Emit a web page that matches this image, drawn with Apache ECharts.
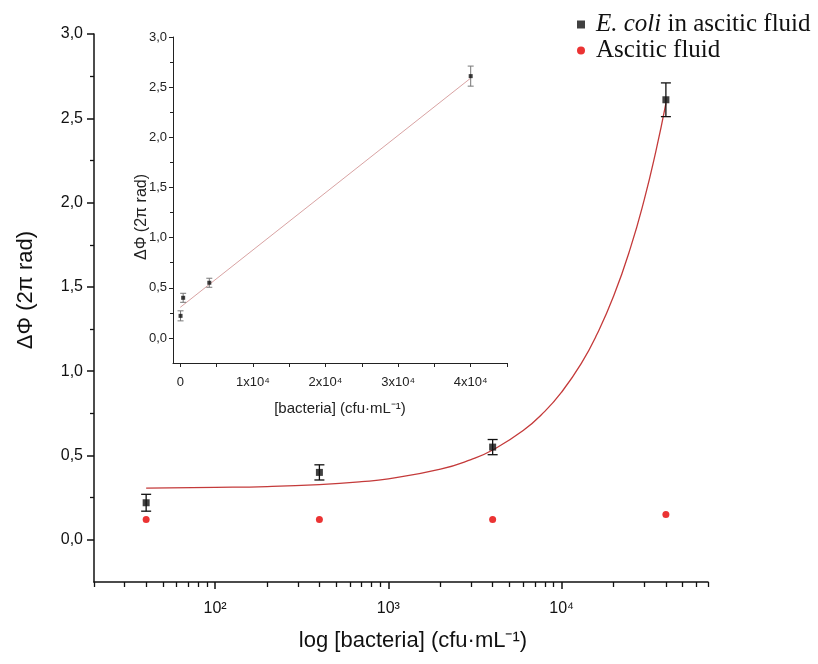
<!DOCTYPE html>
<html>
<head>
<meta charset="utf-8">
<script src="https://cdn.jsdelivr.net/npm/echarts@6/dist/echarts.min.js"></script>
<style>
  html, body { margin: 0; padding: 0; background: #fff; }
  #chart { width: 818px; height: 664px; }
</style>
</head>
<body>
<div id="chart"></div>
<script>
// bacteria concentration (cfu/mL) and measured phase shift (2π rad)
const concentrations = [40, 400, 4000, 40000];
const ecoliPhase = [0.22, 0.40, 0.55, 2.61];
const ecoliError = [0.05, 0.045, 0.045, 0.10];
const asciticPhase = [0.12, 0.12, 0.12, 0.15];

// fitted curve
const fitX = [40, 100, 200, 400, 700, 1000, 2000, 3000, 4000, 6000, 8000, 10000, 13000, 16000, 20000, 25000, 30000, 35000, 40000];
const fitY = [0.307, 0.311, 0.316, 0.328, 0.345, 0.362, 0.419, 0.476, 0.533, 0.648, 0.762, 0.876, 1.047, 1.219, 1.447, 1.733, 2.018, 2.304, 2.589];

// fitted line in the inset
const insetFitX = [0, 40000];
const insetFitY = [0.305, 2.59];

// ticks
const yMajor = [0, 0.5, 1, 1.5, 2, 2.5, 3];
const yMinor = [0.25, 0.75, 1.25, 1.75, 2.25, 2.75];
const logMajor = [100, 1000, 10000];
const logMinor = [20, 30, 40, 50, 60, 70, 80, 90, 200, 300, 400, 500, 600, 700, 800, 900,
  2000, 3000, 4000, 5000, 6000, 7000, 8000, 9000, 20000, 30000, 40000, 50000, 60000, 70000];
const insetXLabels = [0, 10000, 20000, 30000, 40000];
const insetXTicks = [0, 5000, 10000, 15000, 20000, 25000, 30000, 35000, 40000, 45000];

const SANS = 'Liberation Sans, Arial, sans-serif';
const SERIF = 'Liberation Serif, Times New Roman, serif';
const sup = { 100: '10²', 1000: '10³', 10000: '10⁴' };

const chart = echarts.init(document.getElementById('chart'));

function errorBars(capHalf, color, width) {
  return function (params, api) {
    const x = api.value(0);
    const top = api.coord([x, api.value(2)]);
    const bot = api.coord([x, api.value(1)]);
    const style = { stroke: color, lineWidth: width };
    return {
      type: 'group',
      children: [
        { type: 'line', shape: { x1: top[0], y1: top[1], x2: bot[0], y2: bot[1] }, style },
        { type: 'line', shape: { x1: top[0] - capHalf, y1: top[1], x2: top[0] + capHalf, y2: top[1] }, style },
        { type: 'line', shape: { x1: bot[0] - capHalf, y1: bot[1], x2: bot[0] + capHalf, y2: bot[1] }, style }
      ]
    };
  };
}

const errData = concentrations.map((c, i) => [c, ecoliPhase[i] - ecoliError[i], ecoliPhase[i] + ecoliError[i]]);
const commaFmt = v => v.toFixed(1).replace('.', ',');
const mainLine = { show: true, onZero: false, lineStyle: { color: '#111', width: 1.5 } };
const insetLine = { show: true, onZero: false, lineStyle: { color: '#222', width: 1 } };
const noLine = { show: false, onZero: false };

chart.setOption({
  animation: false,
  backgroundColor: '#fff',
  grid: [
    { left: 94, right: 110, top: 34, bottom: 82, outerBoundsMode: 'none' },
    { left: 173, right: 311, top: 37, bottom: 301, outerBoundsMode: 'none' }
  ],
  legend: {
    orient: 'vertical',
    left: 572,
    top: 7,
    itemWidth: 20,
    itemHeight: 8,
    itemGap: 1,
    data: [
      { name: 'E. coli in ascitic fluid', icon: 'path://M0,0L1,0L1,1L0,1Z' },
      { name: 'Ascitic fluid', icon: 'circle' }
    ],
    formatter: name => name === 'E. coli in ascitic fluid' ? '{i|E. coli} in ascitic fluid' : name,
    textStyle: {
      fontFamily: SERIF, fontSize: 25, lineHeight: 25, color: '#111',
      rich: { i: { fontFamily: SERIF, fontSize: 25, lineHeight: 25, fontStyle: 'italic', color: '#111' } }
    }
  },
  xAxis: [
    {
      type: 'log', gridIndex: 0, position: 'bottom', min: 20, max: 70000, logBase: 10,
      name: 'log [bacteria] (cfu·mL⁻¹)', nameLocation: 'middle', nameGap: 48,
      nameTextStyle: { fontFamily: SANS, fontSize: 22, color: '#111', padding: [0, 0, 0, 24] },
      axisLine: mainLine,
      axisTick: { show: true, inside: false, length: 7, customValues: logMajor, lineStyle: { color: '#111', width: 1.5 } },
      axisLabel: { customValues: logMajor, formatter: v => sup[Math.round(v)] || '', fontFamily: SANS, fontSize: 16, color: '#111', margin: 19 },
      splitLine: { show: false }
    },
    {
      type: 'log', gridIndex: 0, position: 'bottom', min: 20, max: 70000, logBase: 10,
      axisLine: noLine,
      axisTick: { show: true, inside: false, length: 5, customValues: logMinor, lineStyle: { color: '#111', width: 1.3 } },
      axisLabel: { show: false },
      splitLine: { show: false }
    },
    {
      type: 'value', gridIndex: 1, position: 'bottom', min: -1000, max: 45000, interval: 1000,
      name: '[bacteria] (cfu·mL⁻¹)', nameLocation: 'middle', nameGap: 38,
      nameTextStyle: { fontFamily: SANS, fontSize: 15, color: '#222' },
      axisLine: insetLine,
      axisTick: { show: true, length: 4, customValues: insetXTicks, lineStyle: { color: '#222' } },
      axisLabel: {
        customValues: insetXLabels,
        formatter: v => v === 0 ? '0' : (v / 10000) + 'x10⁴',
        fontFamily: SANS, fontSize: 13, color: '#222', margin: 13
      },
      splitLine: { show: false }
    }
  ],
  yAxis: [
    {
      type: 'value', gridIndex: 0, position: 'left', min: -0.25, max: 3, interval: 0.25,
      name: 'ΔΦ (2π rad)', nameLocation: 'middle', nameGap: 57,
      nameTextStyle: { fontFamily: SANS, fontSize: 22, color: '#111', padding: [0, 0, 0, 36] },
      axisLine: mainLine,
      axisTick: { show: true, length: 7, customValues: yMajor, lineStyle: { color: '#111', width: 1.5 } },
      axisLabel: { customValues: yMajor, formatter: commaFmt, fontFamily: SANS, fontSize: 16, color: '#111', margin: 11 },
      splitLine: { show: false }
    },
    {
      type: 'value', gridIndex: 0, position: 'left', min: -0.25, max: 3, interval: 0.25,
      axisLine: noLine,
      axisTick: { show: true, length: 4, customValues: yMinor, lineStyle: { color: '#111', width: 1.3 } },
      axisLabel: { show: false },
      splitLine: { show: false }
    },
    {
      type: 'value', gridIndex: 1, position: 'left', min: -0.25, max: 3, interval: 0.25,
      name: 'ΔΦ (2π rad)', nameLocation: 'middle', nameGap: 23, nameMoveOverlap: false,
      nameTextStyle: { fontFamily: SANS, fontSize: 16, color: '#222', padding: [0, 34, 0, 0] },
      axisLine: insetLine,
      axisTick: { show: true, length: 4, customValues: yMajor, lineStyle: { color: '#222' } },
      axisLabel: { customValues: yMajor, formatter: commaFmt, fontFamily: SANS, fontSize: 13, color: '#222', margin: 6 },
      splitLine: { show: false }
    },
    {
      type: 'value', gridIndex: 1, position: 'left', min: -0.25, max: 3, interval: 0.25,
      axisLine: noLine,
      axisTick: { show: true, length: 3, customValues: yMinor, lineStyle: { color: '#222' } },
      axisLabel: { show: false },
      splitLine: { show: false }
    }
  ],
  series: [
    {
      name: 'fit', type: 'line', xAxisIndex: 0, yAxisIndex: 0, z: 1,
      data: fitX.map((x, i) => [x, fitY[i]]),
      smooth: true, showSymbol: false, symbol: 'none',
      lineStyle: { color: '#c43a3a', width: 1.3 }
    },
    {
      name: 'E. coli error', type: 'custom', xAxisIndex: 0, yAxisIndex: 0, z: 2,
      data: errData, encode: { x: 0, y: [1, 2] },
      renderItem: errorBars(5, '#111', 1.3)
    },
    {
      name: 'E. coli in ascitic fluid', type: 'scatter', xAxisIndex: 0, yAxisIndex: 0, z: 3,
      data: concentrations.map((c, i) => [c, ecoliPhase[i]]),
      symbol: 'rect', symbolSize: 7, itemStyle: { color: '#111' }
    },
    {
      name: 'Ascitic fluid', type: 'scatter', xAxisIndex: 0, yAxisIndex: 0, z: 3,
      data: concentrations.map((c, i) => [c, asciticPhase[i]]),
      symbol: 'circle', symbolSize: 7, itemStyle: { color: '#e60000' }
    },
    {
      name: 'inset fit', type: 'line', xAxisIndex: 2, yAxisIndex: 2, z: 1,
      data: insetFitX.map((x, i) => [x, insetFitY[i]]),
      showSymbol: false, symbol: 'none',
      lineStyle: { color: '#d9a3a3', width: 1 }
    },
    {
      name: 'inset error', type: 'custom', xAxisIndex: 2, yAxisIndex: 2, z: 2,
      data: errData, encode: { x: 0, y: [1, 2] },
      renderItem: errorBars(3, '#777', 1)
    },
    {
      name: 'inset points', type: 'scatter', xAxisIndex: 2, yAxisIndex: 2, z: 3,
      data: concentrations.map((c, i) => [c, ecoliPhase[i]]),
      symbol: 'rect', symbolSize: 4, itemStyle: { color: '#111' }
    }
  ]
});
</script>
</body>
</html>
